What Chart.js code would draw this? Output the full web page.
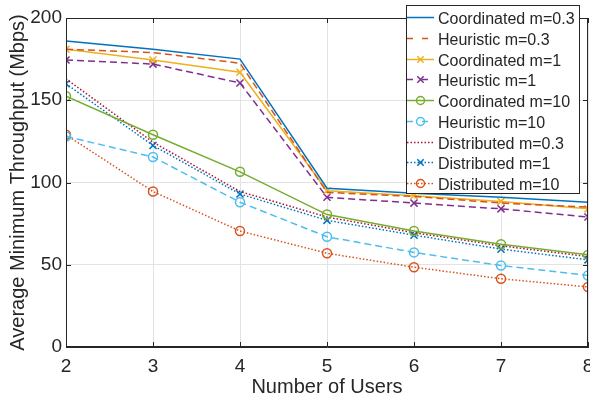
<!DOCTYPE html>
<html>
<head>
<meta charset="utf-8">
<script src="https://cdn.jsdelivr.net/npm/chart.js@4.4.1/dist/chart.umd.min.js"></script>
<style>
  html, body { margin: 0; padding: 0; background: #fff; overflow: hidden; }
  #wrap { width: 590px; height: 403px; position: relative; }
</style>
</head>
<body>
<div id="wrap"><canvas id="c" width="590" height="403"></canvas></div>
<script>
// Number of users on the x axis
const users = [2, 3, 4, 5, 6, 7, 8];
const yTicks = [0, 50, 100, 150, 200];

// Average minimum throughput (Mbps) per scheme
const coordinated03 = [186, 181, 175, 96.5, 93.5, 91, 88];
const heuristic03   = [181, 179, 172.5, 94, 91.5, 87.5, 85];
const coordinated1  = [181, 174.5, 167, 95, 92, 88.5, 84];
const heuristic1    = [174.5, 172, 160.5, 91, 87.5, 84, 79];
const coordinated10 = [152.5, 129, 106.5, 80.5, 70.5, 62.5, 56];
const heuristic10   = [128, 115.5, 88, 67, 57.5, 49.5, 43.5];
const distributed03 = [163, 124.5, 94.5, 79, 69.5, 61.5, 55];
const distributed1  = [160, 122.5, 93, 77, 68, 59.5, 53];
const distributed10 = [129, 94.5, 70.5, 57, 48.5, 41.5, 36.5];

const C = {
  blue: '#0072BD', orange: '#D95319', yellow: '#EDB120', purple: '#7E2F8E',
  green: '#77AC30', cyan: '#4DBEEE', crimson: '#A2142F'
};
const AX = '#262626';
const FONT = '"Liberation Sans", Arial, Helvetica, sans-serif';

const DASH = [7, 4];
const DOT = [1.5, 2];

function series(label, data, color, dash, marker) {
  return {
    label, data: data.map((v, i) => ({ x: users[i], y: v })),
    borderColor: color, backgroundColor: color,
    borderWidth: 1.5, borderDash: dash,
    pointStyle: marker || false,
    pointRadius: marker ? (marker === 'circle' ? 4.5 : 5) : 0,
    pointBorderColor: color, pointBackgroundColor: 'rgba(0,0,0,0)',
    pointBorderWidth: 1.5, tension: 0, fill: false
  };
}

const datasets = [
  series('Coordinated m=0.3', coordinated03, C.blue, [], null),
  series('Heuristic m=0.3', heuristic03, C.orange, DASH, null),
  series('Coordinated m=1', coordinated1, C.yellow, [], 'crossRot'),
  series('Heuristic m=1', heuristic1, C.purple, DASH, 'crossRot'),
  series('Coordinated m=10', coordinated10, C.green, [], 'circle'),
  series('Heuristic m=10', heuristic10, C.cyan, DASH, 'circle'),
  series('Distributed m=0.3', distributed03, C.crimson, DOT, null),
  series('Distributed m=1', distributed1, C.blue, DOT, 'crossRot'),
  series('Distributed m=10', distributed10, C.orange, DOT, 'circle')
];

// Axes box with inward tick marks on all four sides
const boxPlugin = {
  id: 'box',
  afterDatasetsDraw(chart) {
    const { ctx, chartArea: a, scales } = chart;
    ctx.save();
    ctx.strokeStyle = AX;
    ctx.lineWidth = 1;
    ctx.strokeRect(a.left + 0.5, a.top + 0.5, a.right - a.left - 1, a.bottom - a.top - 1);
    const L = 5;
    ctx.beginPath();
    scales.x.ticks.forEach((t, i) => {
      const px = Math.round(scales.x.getPixelForTick(i)) + 0.5;
      ctx.moveTo(px, a.bottom); ctx.lineTo(px, a.bottom - L);
      ctx.moveTo(px, a.top); ctx.lineTo(px, a.top + L);
    });
    scales.y.ticks.forEach((t, i) => {
      const py = Math.round(scales.y.getPixelForTick(i)) + 0.5;
      ctx.moveTo(a.left, py); ctx.lineTo(a.left + L, py);
      ctx.moveTo(a.right, py); ctx.lineTo(a.right - L, py);
    });
    ctx.stroke();
    ctx.restore();
  }
};

// Boxed legend in the upper right corner, drawn from the dataset styles
const legendPlugin = {
  id: 'boxLegend',
  afterDraw(chart) {
    const { ctx } = chart;
    const x0 = 406, y0 = 5, w = 173, h = 188;
    const rowH = 20.75, first = 12;
    ctx.save();
    ctx.fillStyle = '#fff';
    ctx.fillRect(x0, y0, w, h);
    ctx.strokeStyle = AX;
    ctx.lineWidth = 1;
    ctx.strokeRect(x0 + 0.5, y0 + 0.5, w, h);
    chart.data.datasets.forEach((ds, i) => {
      const cy = Math.round(y0 + first + i * rowH) + 0.5;
      ctx.strokeStyle = ds.borderColor;
      ctx.lineWidth = ds.borderWidth;
      ctx.setLineDash(ds.borderDash === DASH ? [6, 9] : ds.borderDash);
      ctx.beginPath();
      ctx.moveTo(407, cy); ctx.lineTo(434, cy);
      ctx.stroke();
      ctx.setLineDash([]);
      if (ds.pointStyle) {
        ctx.strokeStyle = ds.pointBorderColor;
        ctx.fillStyle = 'rgba(0,0,0,0)';
        ctx.lineWidth = ds.pointBorderWidth;
        Chart.helpers.drawPoint(ctx, {
          pointStyle: ds.pointStyle, radius: ds.pointRadius - 0.5, rotation: 0,
          borderWidth: ds.pointBorderWidth
        }, 420.5, cy);
      }
      ctx.fillStyle = AX;
      ctx.font = '16px ' + FONT;
      ctx.textBaseline = 'middle';
      ctx.textAlign = 'left';
      ctx.fillText(ds.label, 438, cy + 2);
    });
    ctx.restore();
  }
};

new Chart(document.getElementById('c'), {
  type: 'line',
  data: { datasets },
  plugins: [boxPlugin, legendPlugin],
  options: {
    responsive: false,
    animation: false,
    devicePixelRatio: 1,
    layout: { autoPadding: false, padding: { top: 18, right: 2, left: 0, bottom: 0 } },
    plugins: { legend: { display: false }, tooltip: { enabled: false } },
    scales: {
      x: {
        type: 'linear', min: 2, max: 8,
        afterBuildTicks(s) { s.ticks = users.map(v => ({ value: v })); },
        afterFit(s) { s.height = 56; s.paddingLeft = 0; s.paddingRight = 0; },
        grid: { color: '#e3e3e3', drawTicks: false },
        border: { color: AX },
        ticks: { color: AX, font: { family: FONT, size: 19 }, padding: 8, maxRotation: 0 },
        title: { display: true, text: 'Number of Users', color: AX,
                 font: { family: FONT, size: 20 }, padding: { top: 0 } }
      },
      y: {
        min: 0, max: 200,
        afterBuildTicks(s) { s.ticks = yTicks.map(v => ({ value: v })); },
        afterFit(s) { s.width = 66; s.paddingTop = 0; s.paddingBottom = 0; },
        grid: { color: '#e3e3e3', drawTicks: false },
        border: { color: AX },
        ticks: { color: AX, font: { family: FONT, size: 19 }, padding: 4 },
        title: { display: true, text: 'Average Minimum Throughput (Mbps)', color: AX,
                 font: { family: FONT, size: 20 }, padding: { top: 6, bottom: 0 } }
      }
    }
  }
});
</script>
</body>
</html>
